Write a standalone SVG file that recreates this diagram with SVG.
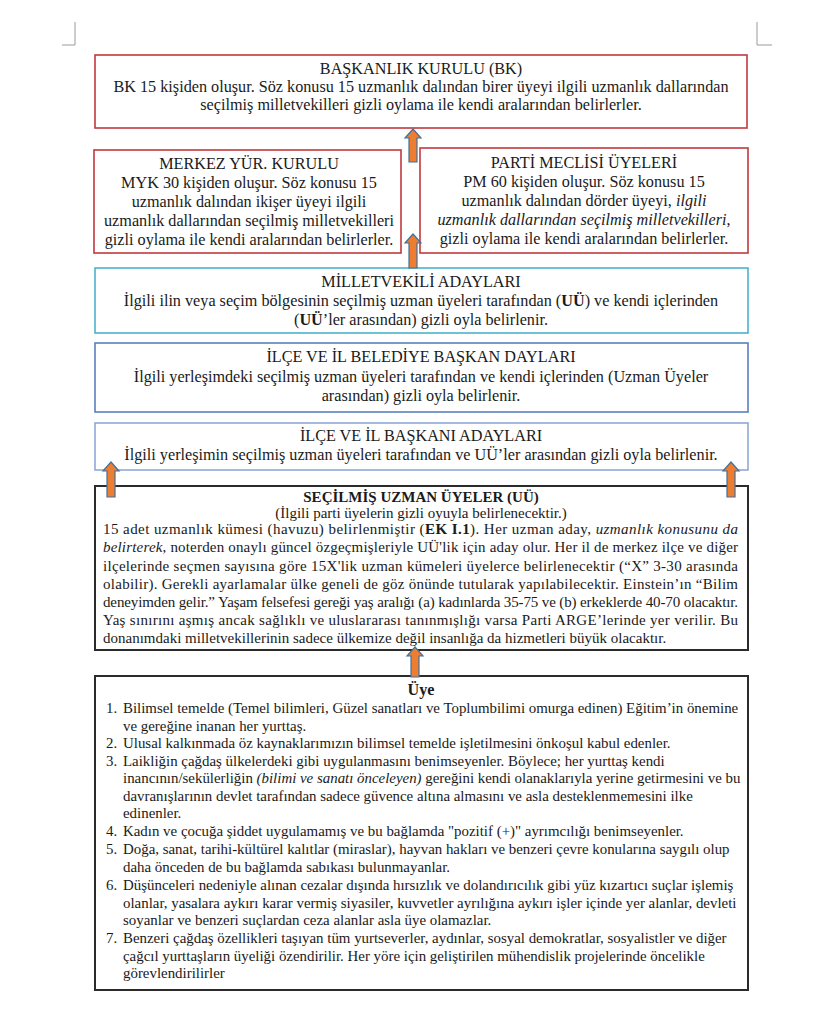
<svg xmlns="http://www.w3.org/2000/svg" width="826" height="1024" viewBox="0 0 826 1024">
<style>
text{font-family:"Liberation Serif","Times New Roman",serif;fill:#1a1a1a}
.t{font-size:16.2px;text-anchor:middle}
.s{font-size:15px}
.u{font-size:14.9px}
.b{font-weight:bold}
.i{font-style:italic}
.box{fill:#fff;stroke-width:1.6}
.red{stroke:#c0393f}
.cyan{stroke:#4bb3cc}
.blue{stroke:#5b7fbf}
.lblue{stroke:#8fa9d6}
.dark{stroke:#2b2b2b;stroke-width:2}
.arr{fill:#ed7d31;stroke:#41719c;stroke-width:1.2}
.crop{stroke:#9a9a9a;stroke-width:1;fill:none}
</style>
<rect width="826" height="1024" fill="#fff"/>
<path class="crop" d="M62,45H75V22M772,45H757V22"/>

<g id="bk">
<rect class="box red" x="95" y="55" width="652" height="73"/>
<text class="t" x="421" y="74">BAŞKANLIK KURULU (BK)</text>
<text class="t" x="421" y="92">BK 15 kişiden oluşur. Söz konusu 15 uzmanlık dalından birer üyeyi ilgili uzmanlık dallarından</text>
<text class="t" x="421" y="110">seçilmiş milletvekilleri gizli oylama ile kendi aralarından belirlerler.</text>
</g>

<g id="myk">
<rect class="box red" x="94" y="150" width="307" height="103"/>
<text class="t" x="249" y="169">MERKEZ YÜR. KURULU</text>
<text class="t" x="249" y="188">MYK 30 kişiden oluşur. Söz konusu 15</text>
<text class="t" x="249" y="207">uzmanlık dalından ikişer üyeyi ilgili</text>
<text class="t" x="249" y="226">uzmanlık dallarından seçilmiş milletvekilleri</text>
<text class="t" x="249" y="245">gizli oylama ile kendi aralarından belirlerler.</text>
</g>

<g id="pm">
<rect class="box red" x="420" y="148" width="328" height="105"/>
<text class="t" x="584" y="168">PARTİ MECLİSİ ÜYELERİ</text>
<text class="t" x="584" y="187">PM 60 kişiden oluşur. Söz konusu 15</text>
<text class="t" x="584" y="206">uzmanlık dalından dörder üyeyi, <tspan class="i">ilgili</tspan></text>
<text class="t" x="584" y="225"><tspan class="i">uzmanlık dallarından seçilmiş milletvekilleri</tspan>,</text>
<text class="t" x="584" y="244">gizli oylama ile kendi aralarından belirlerler.</text>
</g>

<g id="mv">
<rect class="box cyan" x="95" y="268" width="653" height="65"/>
<text class="t" x="421" y="287">MİLLETVEKİLİ ADAYLARI</text>
<text class="t" x="421" y="306">İlgili ilin veya seçim bölgesinin seçilmiş uzman üyeleri tarafından (<tspan class="b">UÜ</tspan>) ve kendi içlerinden</text>
<text class="t" x="421" y="325">(<tspan class="b">UÜ</tspan>’ler arasından) gizli oyla belirlenir.</text>
</g>

<g id="bel">
<rect class="box blue" x="95" y="343" width="653" height="69"/>
<text class="t" x="421" y="362">İLÇE VE İL BELEDİYE BAŞKAN DAYLARI</text>
<text class="t" x="421" y="382">İlgili yerleşimdeki seçilmiş uzman üyeleri tarafından ve kendi içlerinden (Uzman Üyeler</text>
<text class="t" x="421" y="401">arasından) gizli oyla belirlenir.</text>
</g>

<g id="ilb">
<rect class="box lblue" x="95" y="423" width="653" height="47"/>
<text class="t" x="421" y="441">İLÇE VE İL BAŞKANI ADAYLARI</text>
<text class="t" x="421" y="460">İlgili yerleşimin seçilmiş uzman üyeleri tarafından ve UÜ’ler arasından gizli oyla belirlenir.</text>
</g>

<g id="uu">
<rect class="box dark" x="95" y="486" width="653" height="164"/>
<text class="t b" x="421" y="502" style="font-size:15px">SEÇİLMİŞ UZMAN ÜYELER (UÜ)</text>
<text class="t" x="421" y="518" style="font-size:15px">(İlgili parti üyelerin gizli oyuyla belirlenecektir.)</text>
<text class="s" x="103" y="534" textLength="635" lengthAdjust="spacing">15 adet uzmanlık kümesi (havuzu) belirlenmiştir (<tspan class="b">EK I.1</tspan>). Her uzman aday, <tspan class="i">uzmanlık konusunu da</tspan></text>
<text class="s" x="103" y="552" textLength="635" lengthAdjust="spacing"><tspan class="i">belirterek</tspan>, noterden onaylı güncel özgeçmişleriyle UÜ'lik için aday olur. Her il de merkez ilçe ve diğer</text>
<text class="s" x="103" y="571" textLength="635" lengthAdjust="spacing">ilçelerinde seçmen sayısına göre 15X'lik uzman kümeleri üyelerce belirlenecektir (“X” 3-30 arasında</text>
<text class="s" x="103" y="589" textLength="635" lengthAdjust="spacing">olabilir). Gerekli ayarlamalar ülke geneli de göz önünde tutularak yapılabilecektir. Einstein’ın “Bilim</text>
<text class="s" x="103" y="607" textLength="635" lengthAdjust="spacing">deneyimden gelir.” Yaşam felsefesi gereği yaş aralığı (a) kadınlarda 35-75 ve (b) erkeklerde 40-70 olacaktır.</text>
<text class="s" x="103" y="625" textLength="635" lengthAdjust="spacing">Yaş sınırını aşmış ancak sağlıklı ve uluslararası tanınmışlığı varsa Parti ARGE’lerinde yer verilir. Bu</text>
<text class="s" x="103" y="643">donanımdaki milletvekillerinin sadece ülkemize değil insanlığa da hizmetleri büyük olacaktır.</text>
</g>

<g id="uye">
<rect class="box dark" x="95" y="676" width="653" height="314"/>
<text class="t b" x="421" y="695">Üye</text>
<g class="u">
<text x="106" y="713">1.</text><text x="123" y="713">Bilimsel temelde (Temel bilimleri, Güzel sanatları ve Toplumbilimi omurga edinen) Eğitim’in önemine</text>
<text x="123" y="731">ve gereğine inanan her yurttaş.</text>
<text x="106" y="748">2.</text><text x="123" y="748">Ulusal kalkınmada öz kaynaklarımızın bilimsel temelde işletilmesini önkoşul kabul edenler.</text>
<text x="106" y="766">3.</text><text x="123" y="766">Laikliğin çağdaş ülkelerdeki gibi uygulanmasını benimseyenler. Böylece; her yurttaş kendi</text>
<text x="123" y="783">inancının/sekülerliğin <tspan class="i">(bilimi ve sanatı önceleyen)</tspan> gereğini kendi olanaklarıyla yerine getirmesini ve bu</text>
<text x="123" y="801">davranışlarının devlet tarafından sadece güvence altına almasını ve asla desteklenmemesini ilke</text>
<text x="123" y="818">edinenler.</text>
<text x="106" y="836">4.</text><text x="123" y="836">Kadın ve çocuğa şiddet uygulamamış ve bu bağlamda "pozitif (+)" ayrımcılığı benimseyenler.</text>
<text x="106" y="854">5.</text><text x="123" y="854">Doğa, sanat, tarihi-kültürel kalıtlar (miraslar), hayvan hakları ve benzeri çevre konularına saygılı olup</text>
<text x="123" y="872">daha önceden de bu bağlamda sabıkası bulunmayanlar.</text>
<text x="106" y="890">6.</text><text x="123" y="890">Düşünceleri nedeniyle alınan cezalar dışında hırsızlık ve dolandırıcılık gibi yüz kızartıcı suçlar işlemiş</text>
<text x="123" y="908">olanlar, yasalara aykırı karar vermiş siyasiler, kuvvetler ayrılığına aykırı işler içinde yer alanlar, devleti</text>
<text x="123" y="925">soyanlar ve benzeri suçlardan ceza alanlar asla üye olamazlar.</text>
<text x="106" y="943">7.</text><text x="123" y="943">Benzeri çağdaş özellikleri taşıyan tüm yurtseverler, aydınlar, sosyal demokratlar, sosyalistler ve diğer</text>
<text x="123" y="961">çağcıl yurttaşların üyeliği özendirilir. Her yöre için geliştirilen mühendislik projelerinde öncelikle</text>
<text x="123" y="978">görevlendirilirler</text>
</g>
</g>

<g id="connectors">
<path class="arr" d="M413,129 L421,138 L417,138 L417,162 L409,162 L409,138 L405,138 Z"/>
<path class="arr" d="M413,234 L421,243 L417,243 L417,268 L409,268 L409,243 L405,243 Z"/>
<path class="arr" d="M111,462 L119,471 L115,471 L115,497 L107,497 L107,471 L103,471 Z"/>
<path class="arr" d="M731,462 L739,471 L735,471 L735,497 L727,497 L727,471 L723,471 Z"/>
<path class="arr" d="M415,647 L423,656 L419,656 L419,677 L411,677 L411,656 L407,656 Z"/>
</g>
</svg>
